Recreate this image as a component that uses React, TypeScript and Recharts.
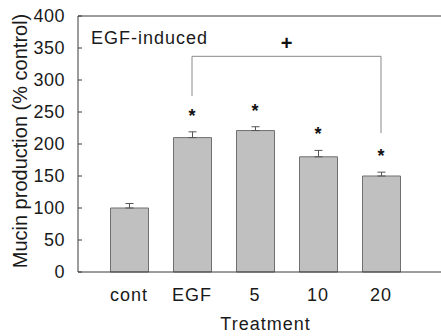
import React from 'react';
import {
  ComposedChart,
  Bar,
  ErrorBar,
  Scatter,
  XAxis,
  YAxis,
  ReferenceLine,
} from 'recharts';

const categories = ['cont', 'EGF', '5', '10', '20'];
const values = [100, 210, 221, 180, 150];
const errors = [7, 9, 6, 10, 6];
const significant = [false, true, true, true, true];
const yTicks = [0, 50, 100, 150, 200, 250, 300, 350, 400];

// bracket comparing EGF with 20 (data units)
const bracketFrom = 'EGF';
const bracketTo = '20';
const bracketTop = 337;
const bracketLeftEnd = 275;
const bracketRightEnd = 217;

const data = categories.map((name, i) => ({
  name,
  value: values[i],
  err: [0, errors[i]],
  top: values[i] + errors[i],
  star: significant[i],
}));

const FONT = '"Liberation Sans", Arial, sans-serif';
const TXT = '#1a1a1a';
const AXIS = '#3a3a3a';

const StarShape = (props: any) => {
  const { cx, cy, payload } = props;
  if (!payload || !payload.star) return <g />;
  return (
    <text
      x={cx}
      y={cy - 10}
      textAnchor="middle"
      fontFamily={FONT}
      fontSize={18}
      fontWeight="bold"
      fill="#111"
    >
      *
    </text>
  );
};

const YLabel = (props: any) => {
  const vb = props.viewBox || { x: 0, y: 16, width: 78, height: 256 };
  const x = 26.5;
  const y = vb.y + vb.height / 2 - 3;
  return (
    <text
      x={x}
      y={y}
      transform={`rotate(-90, ${x}, ${y})`}
      textAnchor="middle"
      fontFamily={FONT}
      fontSize={20}
      fill={TXT}
    >
      Mucin production (% control)
    </text>
  );
};

const XLabel = (props: any) => {
  const vb = props.viewBox || { x: 78, y: 272, width: 363, height: 0 };
  return (
    <text
      x={vb.x + vb.width / 2 + 6}
      y={330}
      textAnchor="middle"
      fontFamily={FONT}
      fontSize={18}
      letterSpacing={1}
      fill={TXT}
    >
      Treatment
    </text>
  );
};

const PlusLabel = (props: any) => {
  const vb = props.viewBox;
  if (!vb) return null;
  return (
    <text
      x={vb.x + vb.width / 2}
      y={vb.y - 6}
      textAnchor="middle"
      fontFamily={FONT}
      fontSize={20}
      fontWeight="bold"
      fill="#111"
    >
      +
    </text>
  );
};

export default function App() {
  return (
    <div style={{ position: 'absolute', left: 0, top: 0, width: 441, height: 336, background: '#fff' }}>
      <ComposedChart
        width={441}
        height={336}
        data={data}
        margin={{ top: 16, right: 0, bottom: 0, left: 0 }}
      >
        <XAxis
          dataKey="name"
          type="category"
          padding={{ left: 19.5, right: 28.5 }}
          axisLine={{ stroke: AXIS, strokeWidth: 1 }}
          tickLine={false}
          tickMargin={10}
          tick={{ fontFamily: FONT, fontSize: 18, fill: TXT, letterSpacing: 1 }}
          label={XLabel}
          height={64}
        />
        <YAxis
          type="number"
          domain={[0, 400]}
          ticks={yTicks}
          width={78}
          interval={0}
          axisLine={{ stroke: AXIS, strokeWidth: 1 }}
          tickLine={{ stroke: AXIS, strokeWidth: 1 }}
          tickSize={-4}
          tickMargin={17}
          tick={{ fontFamily: FONT, fontSize: 18, fill: TXT, letterSpacing: 0.5 }}
          label={YLabel}
        />
        <ReferenceLine y={400} stroke={AXIS} strokeWidth={1} ifOverflow="extendDomain" />
        <Bar
          dataKey="value"
          fill="#c0c0c0"
          stroke="#707070"
          strokeWidth={1}
          barSize={38}
          isAnimationActive={false}
        >
          <ErrorBar dataKey="err" width={4} stroke="#555" strokeWidth={1} direction="y" isAnimationActive={false} />
        </Bar>
        <Scatter dataKey="top" shape={StarShape} isAnimationActive={false} legendType="none" />
        <ReferenceLine
          segment={[
            { x: bracketFrom, y: bracketTop },
            { x: bracketTo, y: bracketTop },
          ]}
          stroke="#8a8a8a"
          strokeWidth={1}
          label={PlusLabel}
        />
        <ReferenceLine
          segment={[
            { x: bracketFrom, y: bracketLeftEnd },
            { x: bracketFrom, y: bracketTop },
          ]}
          stroke="#8a8a8a"
          strokeWidth={1}
        />
        <ReferenceLine
          segment={[
            { x: bracketTo, y: bracketRightEnd },
            { x: bracketTo, y: bracketTop },
          ]}
          stroke="#8a8a8a"
          strokeWidth={1}
        />
        <text x={91} y={44} fontFamily={FONT} fontSize={18} letterSpacing={1} fill={TXT}>
          EGF-induced
        </text>
      </ComposedChart>
    </div>
  );
}
